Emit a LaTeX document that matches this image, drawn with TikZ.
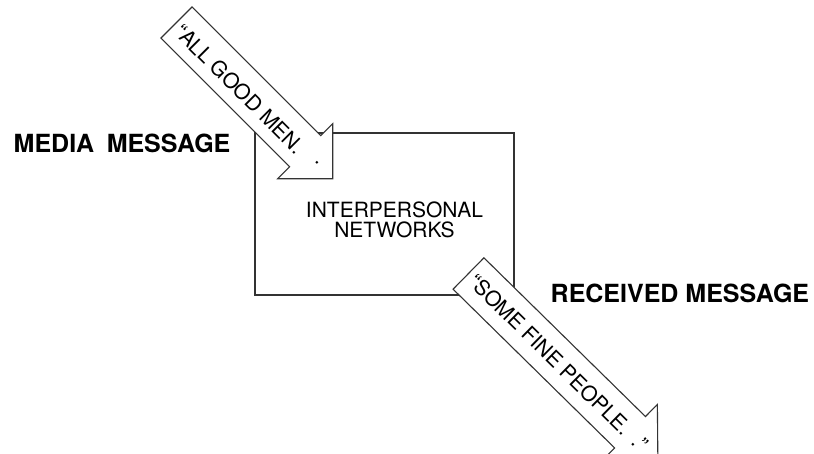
\documentclass[tikz,border=0pt]{standalone}
\usepackage{fontspec}
\setmainfont{TeX Gyre Heros}
\begin{document}
\begin{tikzpicture}[x=1pt,y=1pt,
  outl/.style={draw=black!80, line width=1.1pt, line join=miter},
  blk/.style={fill=white, outl},
  lbl/.style={inner sep=0pt, anchor=base west, font=\fontsize{25}{30}\selectfont\bfseries},
  atext/.style={inner sep=0pt, anchor=base west, font=\fontsize{21}{25}\selectfont, transform shape}]
\useasboundingbox (0,0) rectangle (814,-454);
\clip (0,0) rectangle (814,-454);
% box
\node[outl, minimum width=259pt, minimum height=162pt, inner sep=0pt] (box) at (384.5,-214) {};
\node[inner sep=0pt, align=center, font=\fontsize{21}{20}\selectfont] (net) at (394.5,-219.7) {INTERPERSONAL\\NETWORKS};
% arrow 1
\begin{scope}[shift={(176.5,-22.5)}, rotate=-45]
\draw[blk] (0,22) -- (182,22) -- (182,39) -- (221,0) -- (182,-39) -- (182,-22) -- (0,-22) -- cycle;
\node[atext] (t1) at (6,-10) {“ALL GOOD MEN.\hspace{18pt}\raisebox{9pt}{.}};
\end{scope}
% arrow 2
\begin{scope}[shift={(468.5,-273.5)}, rotate=-44.5]
\draw[blk] (0,22) -- (226.5,22) -- (226.5,39) -- (265.5,0) -- (226.5,-39) -- (226.5,-22) -- (0,-22) -- cycle;
\node[atext] (t2) at (6,-8) {“SOME FINE PEOPLE.\hspace{0.5em}.”};
\end{scope}
% labels
\node[lbl] (media) at (13.5,-153) {MEDIA\hspace{0.5em}MESSAGE};
\node[lbl] (recv) at (550.5,-303) {RECEIVED MESSAGE};
\end{tikzpicture}
\end{document}
